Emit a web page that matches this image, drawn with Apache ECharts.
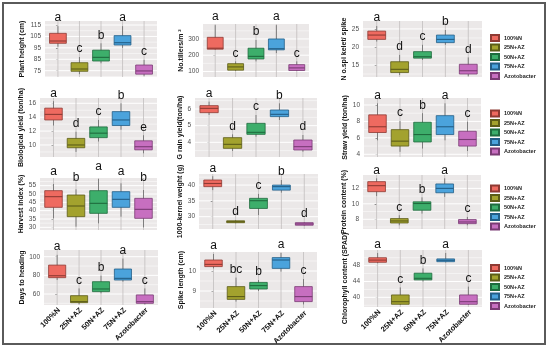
<!DOCTYPE html>
<html><head><meta charset="utf-8">
<script src="https://cdn.jsdelivr.net/npm/echarts@6/dist/echarts.min.js"></script>
<style>html,body{margin:0;padding:0;background:#fff}#c{width:550px;height:349px}</style>
</head><body><div id="c"></div>
<script>
// ---------- DATA ----------
const categories = ['100%N', '25N+AZ', '50N+AZ', '75N+AZ', 'Azotobacter'];
// each box: [min, Q1, median, Q3, max]
const plantHeight = [[96, 99, 101, 107.7, 114], [72, 74.5, 76.5, 82, 87], [81.5, 83.5, 86.7, 93, 99], [95, 97.5, 99.5, 105.7, 114], [70.5, 72, 74.8, 80, 84.5]];
const tillers = [[233, 237, 243, 310, 385], [103, 108, 128, 148, 162], [162, 177, 193, 243, 294], [213, 233, 240, 300, 385], [103, 106, 122, 142, 162]];
const spikelets = [[21.5, 22.1, 23.3, 24.4, 25.8], [12.2, 12.9, 13.8, 15.9, 17.8], [16.4, 16.9, 17.3, 18.7, 20.6], [20.6, 21.2, 22.1, 23.3, 24.7], [11.9, 12.5, 13.4, 15.2, 17.1]];
const bioYield = [[12.8, 13.6, 14.4, 15.3, 16.3], [9.0, 9.6, 10.0, 10.95, 11.9], [10.5, 11.05, 11.7, 12.6, 13.6], [12.2, 12.8, 13.6, 14.8, 16.0], [8.8, 9.3, 9.75, 10.6, 11.4]];
const grainYield = [[5.64, 5.78, 6.04, 6.2, 6.44], [3.48, 3.64, 3.88, 4.28, 4.48], [4.34, 4.48, 4.6, 5.14, 5.64], [5.34, 5.54, 5.68, 5.94, 6.34], [3.44, 3.54, 3.74, 4.14, 4.44]];
const strawYield = [[5.7, 6.65, 7.35, 8.8, 10.2], [4.3, 5.0, 5.6, 7.0, 8.04], [4.7, 5.5, 6.4, 7.9, 9.0], [5.7, 6.4, 7.35, 8.7, 10.2], [4.4, 5.0, 5.8, 6.8, 7.96]];
const harvestIndex = [[35.4, 42, 48.4, 52, 56], [30.4, 36.4, 42.8, 49.4, 52.8], [32.4, 38.4, 44.4, 52, 59], [36.4, 42, 46.8, 51.4, 56.4], [30, 35.4, 40.8, 47.4, 52.4]];
const kernelWeight = [[38.4, 39.5, 40.5, 41.6, 42.8], [27.9, 28.1, 28.4, 28.7, 28.9], [30.5, 32.6, 35.05, 35.8, 37.2], [37.6, 38.4, 39.5, 40, 41.6], [27.1, 27.3, 27.7, 28.1, 28.3]];
const protein = [[11.0, 11.57, 12.35, 12.87, 13.3], [7.22, 7.52, 7.78, 8.09, 8.52], [8.74, 9.17, 10.04, 10.26, 10.83], [10.9, 11.43, 12.0, 12.57, 13.3], [7.22, 7.43, 7.65, 7.96, 8.3]];
const daysHeading = [[75, 77.5, 79.6, 91, 102], [49, 50.7, 51.8, 58.2, 66], [60.7, 62.5, 65.4, 73.2, 79.6], [73.2, 75, 76.8, 86.8, 98], [49, 50, 51.8, 59, 66]];
const spikeLength = [[10.13, 10.22, 10.33, 10.55, 10.85], [8.47, 8.58, 8.72, 9.22, 9.67], [9.0, 9.1, 9.27, 9.43, 9.55], [9.97, 10.13, 10.55, 10.67, 10.9], [8.33, 8.47, 8.72, 9.22, 9.6]];
const chlorophyll = [[48.6, 48.85, 49.4, 50.0, 51.2], [38.1, 38.25, 38.9, 40.6, 42.5], [44.0, 44.4, 44.8, 46.1, 47.3], [48.8, 49.0, 49.35, 49.7, 51.2], [38.1, 38.25, 38.9, 40.6, 42.7]];

const lettersPlant = ['a', 'c', 'b', 'a', 'c'];
const lettersTillers = ['a', 'c', 'b', 'a', 'c'];
const lettersSpikelet = ['a', 'd', 'c', 'b', 'd'];
const lettersBio = ['a', 'd', 'c', 'b', 'e'];
const lettersGrain = ['a', 'd', 'c', 'b', 'd'];
const lettersStraw = ['a', 'c', 'b', 'a', 'c'];
const lettersHarvest = ['a', 'b', 'a', 'a', 'b'];
const lettersKernel = ['a', 'd', 'c', 'b', 'd'];
const lettersProtein = ['a', 'c', 'b', 'a', 'c'];
const lettersDays = ['a', 'c', 'b', 'a', 'c'];
const lettersSpike = ['a', 'bc', 'b', 'a', 'c'];
const lettersChloro = ['a', 'c', 'b', 'a', 'c'];

const ticksPlant = [75, 85, 95, 105, 115];
const ticksTillers = [100, 200, 300];
const ticksSpikelet = [15, 20, 25];
const ticksBio = [10, 12, 14, 16];
const ticksGrain = [4, 5, 6];
const ticksStraw = [4, 6, 8, 10];
const ticksHarvest = [30, 35, 40, 45, 50, 55];
const ticksKernel = [30, 35, 40];
const ticksProtein = [8, 10, 12];
const ticksDays = [60, 80, 100];
const ticksSpike = [9, 10];
const ticksChloro = [40, 44, 48];

// ---------- LAYOUT / STYLE ----------
const fills = ['#EE6A60', '#A3A22E', '#3DAE6B', '#4BA3DC', '#C76FC0'];
const borders = ['#8E3A33', '#5C5C18', '#1F6B3E', '#235E86', '#7A3B74'];

const panels = [
  {title: 'Plant height (cm)', data: plantHeight, letters: lettersPlant, major: ticksPlant, rect: [45, 21, 157, 77], range: [69.5, 118.5], tx: 22},
  {title: 'No.tillers/m \u00b2', data: tillers, letters: lettersTillers, major: ticksTillers, rect: [203, 24, 309, 77], range: [66, 392], tx: 185},
  {title: 'N o.spi kelet/ spike', data: spikelets, letters: lettersSpikelet, major: ticksSpikelet, rect: [363, 21, 482, 77], range: [11.67, 27.2], tx: 349},
  {title: 'Biological yield (ton/ha)', data: bioYield, letters: lettersBio, major: ticksBio, rect: [40, 98, 157, 157], range: [8.27, 16.76], tx: 22},
  {title: 'G rain yield(ton/ha)', data: grainYield, letters: lettersGrain, major: ticksGrain, rect: [195, 98, 317, 157], range: [3.12, 6.66], tx: 185},
  {title: 'Straw yield (ton/ha)', data: strawYield, letters: lettersStraw, major: ticksStraw, rect: [364, 98, 481, 157], range: [3.67, 10.85], tx: 349},
  {title: 'Harvest index (%)', data: harvestIndex, letters: lettersHarvest, major: ticksHarvest, rect: [40, 178, 157, 230], range: [28.4, 59.6], tx: 22, gap: 6},
  {title: '1000-kernel weight (g)', data: kernelWeight, letters: lettersKernel, major: ticksKernel, rect: [199, 174, 318, 229], range: [26.1, 43.5], tx: 185},
  {title: 'Protein content (%)', data: protein, letters: lettersProtein, major: ticksProtein, rect: [363, 175, 481, 229], range: [6.74, 13.73], tx: 355},
  {title: 'Days to heading', data: daysHeading, letters: lettersDays, major: ticksDays, rect: [44, 250, 158, 305], range: [48.2, 107.2], tx: 22, bottom: true},
  {title: 'Spike length (cm)', data: spikeLength, letters: lettersSpike, major: ticksSpike, rect: [200, 252, 317, 308], range: [8.15, 10.95], tx: 185, bottom: true},
  {title: 'Chlorophyll content (SPAD)', data: chlorophyll, letters: lettersChloro, major: ticksChloro, rect: [364, 250, 482, 307], range: [37.56, 51.95], tx: 348, bottom: true}
];
const legendTops = [34, 109.5, 184.5, 264];

function minorOf(major, range) {
  const step = major[1] - major[0];
  const out = [];
  for (let v = major[0] - step / 2; v <= range[1]; v += step) {
    if (v >= range[0]) out.push(v);
  }
  return out;
}

function makeRender(p) {
  const minor = minorOf(p.major, p.range);
  const gap = p.gap || 2;
  return function (params, api) {
    const i = api.value(0);
    const cs = params.coordSys;
    const pMin = api.coord([i, api.value(1)]);
    const pQ1 = api.coord([i, api.value(2)]);
    const pMed = api.coord([i, api.value(3)]);
    const pQ3 = api.coord([i, api.value(4)]);
    const pMax = api.coord([i, api.value(5)]);
    const bw = api.size([0.78, 0])[0];
    const x = pMed[0];
    const ch = [];
    if (params.dataIndex === 0) {
      minor.forEach(v => {
        const y = api.coord([0, v])[1];
        ch.push({type: 'line', z2: 0, silent: true, shape: {x1: cs.x, y1: y, x2: cs.x + cs.width, y2: y}, style: {stroke: '#ffffff', lineWidth: 0.5}});
      });
      p.major.forEach(v => {
        const y = api.coord([0, v])[1];
        ch.push({type: 'line', z2: 0, silent: true, shape: {x1: cs.x, y1: y, x2: cs.x + cs.width, y2: y}, style: {stroke: '#ffffff', lineWidth: 1}});
      });
    }
    ch.push({type: 'line', z2: 1, shape: {x1: x, y1: cs.y, x2: x, y2: cs.y + cs.height}, style: {stroke: '#c2bebe', lineWidth: 0.8}});
    ch.push({type: 'line', z2: 2, shape: {x1: x, y1: pMax[1], x2: x, y2: pMin[1]}, style: {stroke: '#6a6a6a', lineWidth: 0.8}});
    ch.push({type: 'rect', z2: 3, shape: {x: x - bw / 2, y: pQ3[1], width: bw, height: Math.max(pQ1[1] - pQ3[1], 1)}, style: {fill: fills[i], stroke: borders[i], lineWidth: 0.8}});
    ch.push({type: 'line', z2: 4, shape: {x1: x - bw / 2, y1: pMed[1], x2: x + bw / 2, y2: pMed[1]}, style: {stroke: borders[i], lineWidth: 1.1}});
    ch.push({type: 'text', z2: 5, x: x, y: pMax[1] - gap, style: {text: p.letters[i], fill: '#111', fontSize: 12, fontFamily: 'Liberation Sans, Arial, sans-serif', align: 'center', verticalAlign: 'bottom'}});
    if (p.bottom) {
      ch.push({type: 'text', z2: 5, x: x + 2, y: cs.y + cs.height + 4, rotation: Math.PI / 4, style: {text: categories[i], fill: '#111', fontSize: 7.5, fontWeight: 'bold', fontFamily: 'Liberation Sans, Arial, sans-serif', align: 'right', verticalAlign: 'middle'}});
    }
    return {type: 'group', children: ch};
  };
}

const grids = [], xAxes = [], yAxes = [], series = [];
panels.forEach((p, k) => {
  const [l, t, r, b] = p.rect;
  grids.push({left: l, top: t, width: r - l, height: b - t, show: true, backgroundColor: '#ebe8e8', borderWidth: 0});
  xAxes.push({gridIndex: k, type: 'value', min: -0.6, max: 4.6, show: false});
  yAxes.push({
    gridIndex: k, type: 'value', min: p.range[0], max: p.range[1],
    axisLine: {show: false},
    axisTick: {show: true, customValues: p.major, length: 2, lineStyle: {color: '#333', width: 0.8}},
    axisLabel: {customValues: p.major, fontSize: 6.5, color: '#4d4d4d', margin: 4, fontFamily: 'Liberation Sans, Arial, sans-serif'},
    splitLine: {show: false},
    name: p.title, nameLocation: 'middle', nameGap: l - p.tx - 4,
    nameTextStyle: {fontSize: 7, fontWeight: 'bold', color: '#111', fontFamily: 'Liberation Sans, Arial, sans-serif'}
  });
  series.push({
    type: 'custom', xAxisIndex: k, yAxisIndex: k, clip: false,
    data: p.data.map((d, i) => [i].concat(d)),
    encode: {x: 0, y: [1, 2, 3, 4, 5]},
    renderItem: makeRender(p)
  });
});
categories.forEach((c, i) => {
  series.push({type: 'bar', name: c, data: [], xAxisIndex: 0, yAxisIndex: 0, itemStyle: {color: fills[i], borderColor: borders[i], borderWidth: 0.8}});
});
const legends = legendTops.map(t => ({
  top: t, left: 490, orient: 'vertical', itemWidth: 8, itemHeight: 6, itemGap: 1.5, padding: 0,
  icon: 'rect', selectedMode: false, data: categories,
  textStyle: {fontSize: 5.5, lineHeight: 7, fontWeight: 'bold', color: '#222', fontFamily: 'Liberation Sans, Arial, sans-serif'}
}));

const chart = echarts.init(document.getElementById('c'), null, {renderer: 'canvas'});
chart.setOption({
  animation: false,
  backgroundColor: '#ffffff',
  grid: grids, xAxis: xAxes, yAxis: yAxes, series: series, legend: legends,
  graphic: [{type: 'rect', silent: true, shape: {x: 3, y: 3, width: 542, height: 341}, style: {fill: 'none', stroke: '#5a5a5a', lineWidth: 2}}]
});
</script></body></html>
